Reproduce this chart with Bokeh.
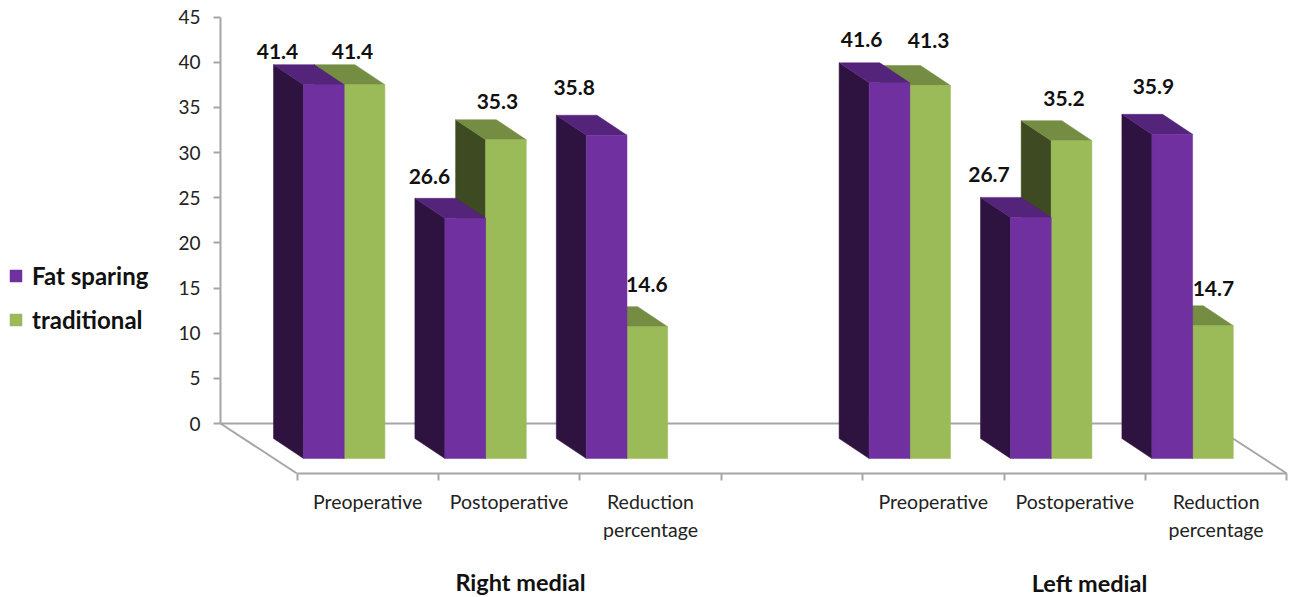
from bokeh.plotting import figure, ColumnDataSource
from bokeh.models import LinearAxis, FixedTicker, Range1d, Legend, LegendItem
from bokeh.core.properties import value
from bokeh.embed import file_html
from bokeh.resources import INLINE

categories = ["Preoperative", "Postoperative", "Reduction\npercentage",
              "Preoperative", "Postoperative", "Reduction\npercentage"]
slots = [0, 1, 2, 4, 5, 6]
fat_sparing = [41.4, 26.6, 35.8, 41.6, 26.7, 35.9]
traditional = [41.4, 35.3, 14.6, 41.3, 35.2, 14.7]
groups = ["Right medial", "Left medial"]
y_ticks = [0, 5, 10, 15, 20, 25, 30, 35, 40, 45]

FONT = "Lato"
W, H = 1290, 597
PX_X = 141.4      # pixels per category slot
PX_Y = 9.03       # pixels per value unit
X0, Y0 = 296.5, 423.0   # picture position of slot 0 and of value 0


def sx(px):
    return px / PX_X


def sy(px):
    return px / PX_Y


p = figure(width=W, height=H, output_backend="svg", toolbar_location=None,
           x_range=Range1d(-X0 / PX_X, (W - X0) / PX_X),
           y_range=Range1d((Y0 - H) / PX_Y, Y0 / PX_Y),
           min_border=0, x_axis_location=None, y_axis_location=None,
           outline_line_color=None, background_fill_color="white")
p.xgrid.visible = False
p.ygrid.visible = False

AX = "#a6a6a6"
floor_y = -sy(50)
wall_x = -sx(76.5)
right_back = 7 - sx(77)
p.line([wall_x, right_back, 7], [0, 0, floor_y], line_color=AX, line_width=2)
p.line([wall_x, 0], [0, floor_y], line_color=AX, line_width=2)

yax = LinearAxis(ticker=FixedTicker(ticks=y_ticks), bounds=(0, 45),
                 fixed_location=wall_x, axis_line_color=AX, axis_line_width=2,
                 major_tick_line_color=AX, major_tick_line_width=2,
                 major_tick_in=0, major_tick_out=7, minor_tick_line_color=None,
                 major_label_standoff=13,
                 major_label_text_font=FONT, major_label_text_font_size="19px",
                 major_label_text_color="#222222")
p.add_layout(yax, "left")

xax = LinearAxis(ticker=FixedTicker(ticks=list(range(8))), bounds=(0, 7),
                 fixed_location=floor_y, axis_line_color=AX, axis_line_width=2,
                 major_tick_line_color=AX, major_tick_line_width=2,
                 major_tick_in=0, major_tick_out=7, minor_tick_line_color=None,
                 major_label_overrides={i: "" for i in range(8)})
p.add_layout(xax, "below")

centers = [s + 0.5 for s in slots]
xlab = LinearAxis(ticker=FixedTicker(ticks=centers),
                  major_label_overrides={c: t for c, t in zip(centers, categories)},
                  fixed_location=floor_y, axis_line_color=None,
                  major_tick_line_color=None, minor_tick_line_color=None,
                  major_tick_in=0, major_tick_out=0, major_label_standoff=16,
                  major_label_text_font=FONT, major_label_text_font_size="19.5px",
                  major_label_text_color="#222222",
                  major_label_text_line_height=1.22)
p.add_layout(xlab, "below")

BAR_W = sx(40.7)
LEFT = sx(6.5)
DX = sx(30)
FRONT_DY = sy(35)
BACK_DY = sy(15)


def faces(slot_list, vals, shift):
    front_x, front_y, side_x, side_y, top_x, top_y = [], [], [], [], [], []
    for s, v in zip(slot_list, vals):
        a = s + LEFT + shift
        b = a + BAR_W
        ft, fb = v - FRONT_DY, -FRONT_DY
        bt, bb = v - BACK_DY, -BACK_DY
        front_x.append([a, b, b, a])
        front_y.append([fb, fb, ft, ft])
        side_x.append([a - DX, a, a, a - DX])
        side_y.append([bb, fb, ft, bt])
        top_x.append([a - DX, b - DX, b, a])
        top_y.append([bt, bt, ft, ft])
    return front_x, front_y, side_x, side_y, top_x, top_y


def draw(vals, shift, front, side, top):
    fx, fy, sx_, sy_, tx, ty = faces(slots, vals, shift)
    p.patches(sx_, sy_, fill_color=side, line_color=side, line_width=0.5)
    p.patches(tx, ty, fill_color=top, line_color=top, line_width=0.5)
    return p.patches(fx, fy, fill_color=front, line_color=front, line_width=0.5)


# each slot is drawn back-to-front: the green column first, purple over it
r_green = draw(traditional, BAR_W, "#9BBB59", "#3D4A22", "#748D43")
r_fat = draw(fat_sparing, 0, "#7030A0", "#2E1240", "#54237A")

fat_dx = [-16.5, -6, -2.6, 2, -12, 11]
fat_dy = [-13, -22, -28, -23, -23, -28]
trad_dx = [17.5, 21, 29, 28, 22, 30]
trad_dy = [-13, -18, -22, -25, -22, -17]


def labels(vals, x_shift, dxs, dys):
    src = ColumnDataSource(dict(
        x=[s + x_shift for s in slots],
        y=[v - BACK_DY for v in vals],
        t=[f"{v:.1f}" for v in vals],
        dx=dxs, dy=dys))
    p.text("x", "y", text="t", x_offset="dx", y_offset="dy", source=src,
           text_font=value(FONT), text_font_style="bold", text_font_size="21px",
           text_align="center", text_baseline="middle", text_color="#111111")


labels(fat_sparing, -sx(3), fat_dx, fat_dy)
labels(traditional, sx(38), trad_dx, trad_dy)

p.text([(520 - X0) / PX_X, (1089 - X0) / PX_X],
       [(Y0 - 581) / PX_Y, (Y0 - 582.5) / PX_Y], text=groups,
       text_font=value(FONT), text_font_style="bold", text_font_size="23.5px",
       text_align="center", text_baseline="middle", text_color="#111111")

legend = Legend(items=[LegendItem(label="Fat sparing", renderers=[r_fat]),
                       LegendItem(label="traditional", renderers=[r_green])],
                location=(6, 261), orientation="vertical",
                background_fill_alpha=0, border_line_alpha=0,
                glyph_width=15, glyph_height=15, label_height=26, label_standoff=9,
                spacing=15, padding=2, margin=2,
                label_text_font=FONT, label_text_font_style="bold",
                label_text_font_size="24px", label_text_color="#111111")
p.add_layout(legend, "center")

open("out.html", "w").write(file_html(p, INLINE))
